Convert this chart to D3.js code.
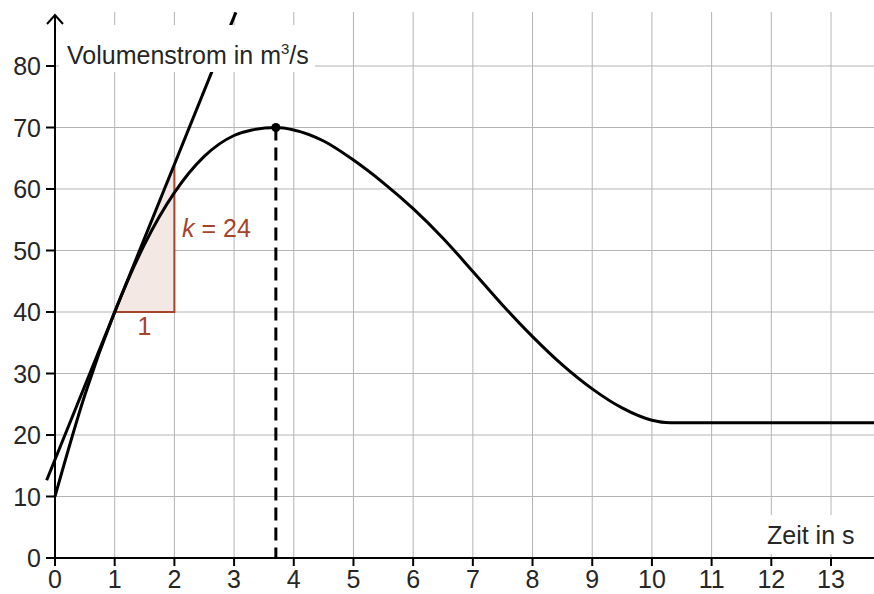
<!DOCTYPE html>
<html>
<head>
<meta charset="utf-8">
<script src="https://cdn.jsdelivr.net/npm/d3@7"></script>
<style>
  html, body { margin: 0; padding: 0; background: #fff; }
  svg { display: block; font-family: "Liberation Sans", Arial, sans-serif; }
</style>
</head>
<body>
<svg id="chart"></svg>
<script>
// values
var xTicks = [0, 1, 2, 3, 4, 5, 6, 7, 8, 9, 10, 11, 12, 13];
var yTicks = [0, 10, 20, 30, 40, 50, 60, 70, 80];
var timeVals = [0, 0.5, 1, 1.5, 2, 2.5, 3, 3.3, 3.7, 4, 4.5, 5, 5.5, 6, 6.5, 7, 7.5, 8, 8.5, 9, 9.5, 10, 10.3, 13.8];
var flowVals = [10, 26.5, 40, 51, 59.4, 65.3, 68.7, 69.6, 70, 69.6, 67.8, 64.7, 61, 56.8, 52, 46.6, 41.1, 36, 31.4, 27.5, 24.4, 22.4, 22, 22];
var peak = { t: 3.7, v: 70 };
var tangentAt = { t: 1, v: 40 };
var slopeK = 24;
var tangentRange = [-0.14, 3.03];

var width = 874, height = 594;
var red = "#a5432b";
var ink = "#262626";
var fs = 25;

var svg = d3.select("#chart").attr("width", width).attr("height", height);

var x = d3.scaleLinear().domain([0, 13]).range([55, 831]);
var y = d3.scaleLinear().domain([0, 80]).range([558, 66]);
var x0 = x(0), y0 = y(0);

// grid
var grid = svg.append("g").attr("stroke", "#b3b3b3").attr("stroke-width", 1);
grid.selectAll("line.v").data(xTicks.filter(d => d > 0)).enter().append("line")
    .attr("x1", d => x(d)).attr("x2", d => x(d))
    .attr("y1", 12).attr("y2", y0);
grid.selectAll("line.h").data(yTicks.filter(d => d > 0)).enter().append("line")
    .attr("x1", x0).attr("x2", width)
    .attr("y1", d => y(d)).attr("y2", d => y(d));

// slope triangle
var tri = [[tangentAt.t, tangentAt.v], [tangentAt.t + 1, tangentAt.v], [tangentAt.t + 1, tangentAt.v + slopeK]];
svg.append("path")
    .attr("d", "M" + tri.map(p => x(p[0]) + "," + y(p[1])).join("L") + "Z")
    .attr("fill", "#f4e8e5").attr("stroke", "none");
svg.append("path")
    .attr("d", "M" + x(tri[0][0]) + "," + y(tri[0][1]) + "L" + x(tri[1][0]) + "," + y(tri[1][1]) + "L" + x(tri[2][0]) + "," + y(tri[2][1]))
    .attr("fill", "none").attr("stroke", red).attr("stroke-width", 2);

// axes
var axes = svg.append("g").attr("stroke", "#000").attr("stroke-width", 2).attr("fill", "none");
axes.append("line").attr("x1", 46).attr("x2", width).attr("y1", y0).attr("y2", y0);
axes.append("line").attr("x1", x0).attr("x2", x0).attr("y1", 566).attr("y2", 15);
axes.append("path").attr("d", "M" + (x0 - 8) + ",24L" + x0 + ",15L" + (x0 + 8) + ",24").attr("stroke-width", 2);
axes.selectAll("line.xt").data(xTicks).enter().append("line")
    .attr("x1", d => x(d)).attr("x2", d => x(d)).attr("y1", y0).attr("y2", 566);
axes.selectAll("line.yt").data(yTicks).enter().append("line")
    .attr("x1", 46).attr("x2", x0).attr("y1", d => y(d)).attr("y2", d => y(d));

svg.append("g").selectAll("text").data(xTicks).enter().append("text")
    .attr("x", d => x(d)).attr("y", 588).attr("text-anchor", "middle")
    .attr("font-size", fs).attr("fill", ink).text(d => d);
svg.append("g").selectAll("text").data(yTicks).enter().append("text")
    .attr("x", 41).attr("y", d => y(d)).attr("dy", "0.36em").attr("text-anchor", "end")
    .attr("font-size", fs).attr("fill", ink).text(d => d);

// dashed line to the peak
svg.append("line")
    .attr("x1", x(peak.t)).attr("x2", x(peak.t)).attr("y1", y(peak.v)).attr("y2", y0)
    .attr("stroke", "#000").attr("stroke-width", 3).attr("stroke-dasharray", "13,7");

// curve
var line = d3.line().x(d => x(d[0])).y(d => y(d[1])).curve(d3.curveMonotoneX);
svg.append("path")
    .datum(timeVals.map((t, i) => [t, flowVals[i]]))
    .attr("d", line)
    .attr("fill", "none").attr("stroke", "#000").attr("stroke-width", 3);

// tangent
var tanY = t => tangentAt.v + slopeK * (t - tangentAt.t);
svg.append("line")
    .attr("x1", x(tangentRange[0])).attr("y1", y(tanY(tangentRange[0])))
    .attr("x2", x(tangentRange[1])).attr("y2", y(tanY(tangentRange[1])))
    .attr("stroke", "#000").attr("stroke-width", 3);

svg.append("circle").attr("cx", x(peak.t)).attr("cy", y(peak.v)).attr("r", 4.5).attr("fill", "#000");

// labels
var kText = svg.append("text").attr("x", 182).attr("y", 237).attr("font-size", fs).attr("fill", red);
kText.append("tspan").attr("font-style", "italic").text("k");
kText.append("tspan").text(" = " + slopeK);
svg.append("text").attr("x", x(tangentAt.t + 0.5)).attr("y", 335).attr("text-anchor", "middle")
    .attr("font-size", fs).attr("fill", red).text("1");

svg.append("rect").attr("x", 59).attr("y", 25).attr("width", 256).attr("height", 47).attr("fill", "#fff");
var yl = svg.append("text").attr("x", 67).attr("y", 64).attr("font-size", fs).attr("fill", ink);
yl.append("tspan").text("Volumenstrom in m");
yl.append("tspan").attr("font-size", 15).attr("dy", -10).text("3");
yl.append("tspan").attr("dy", 10).text("/s");

svg.append("rect").attr("x", 761).attr("y", 515).attr("width", 97).attr("height", 39).attr("fill", "#fff");
svg.append("text").attr("x", 767).attr("y", 544).attr("font-size", fs).attr("fill", ink).text("Zeit in s");
</script>
</body>
</html>
